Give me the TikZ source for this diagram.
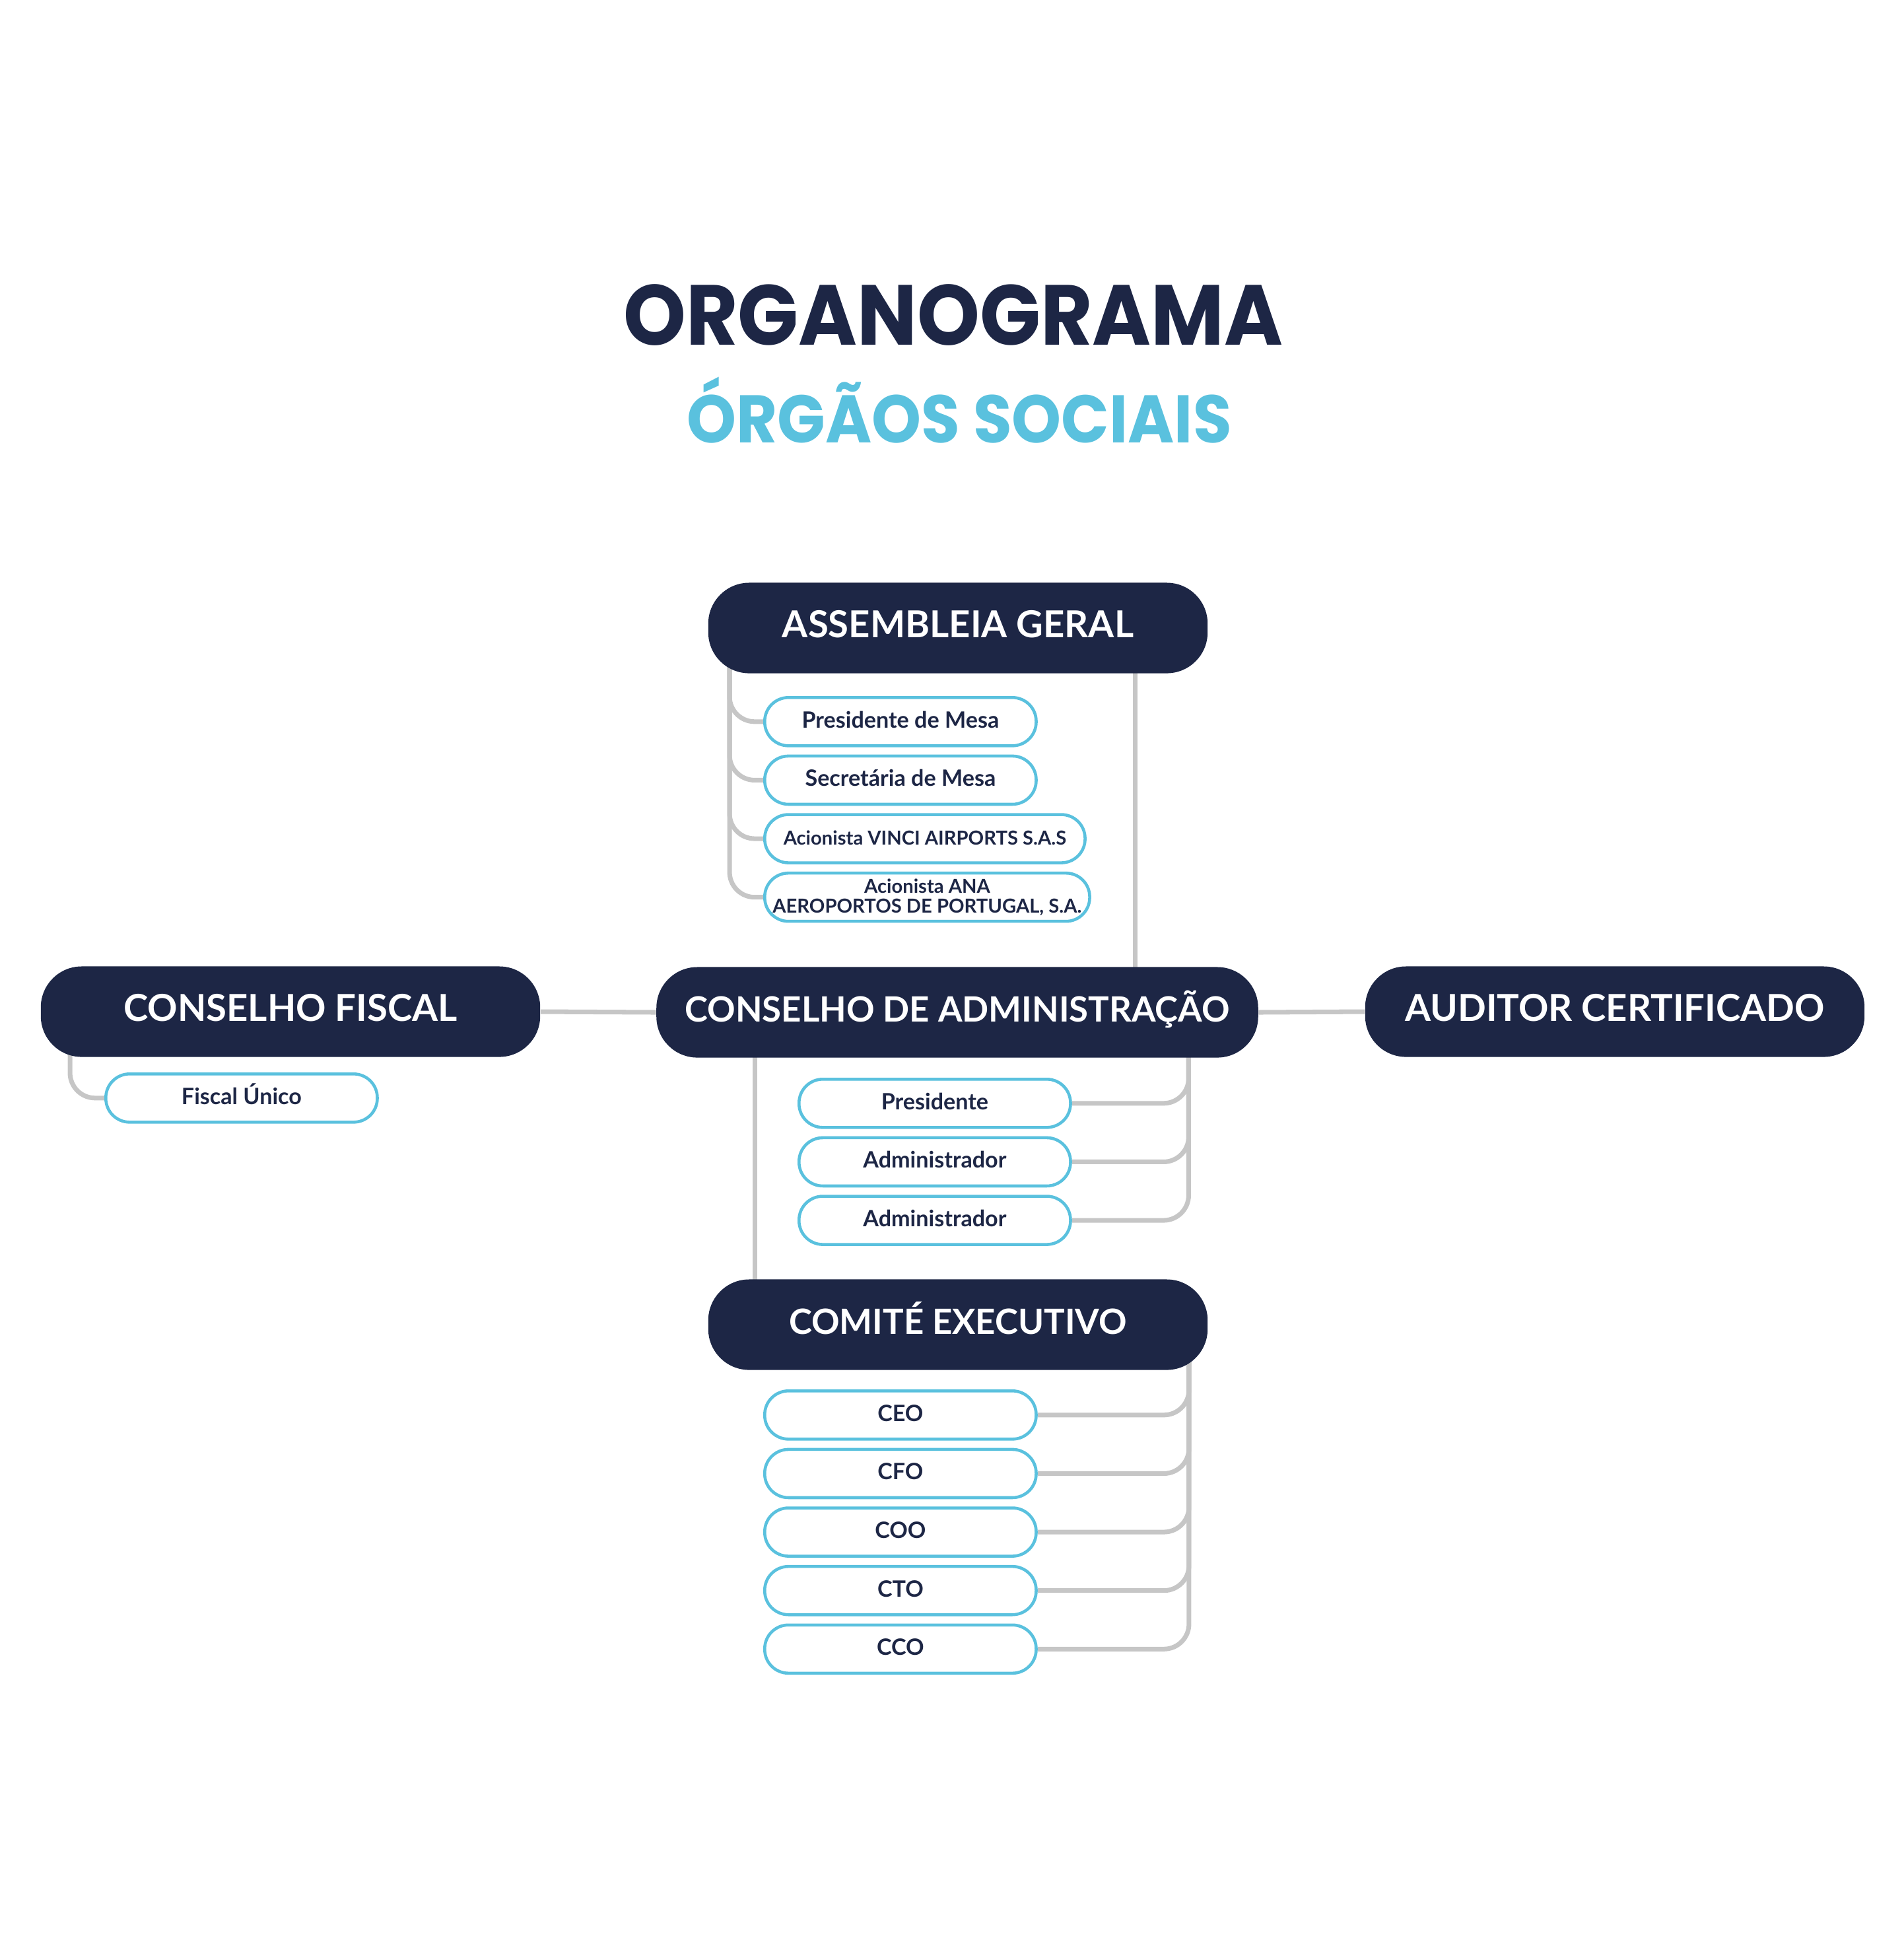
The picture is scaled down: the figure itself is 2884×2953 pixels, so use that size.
\documentclass[tikz,border=0pt]{standalone}
\usepackage{fontspec}
\setmainfont{Lato}
\newfontfamily\titlefont[FakeStretch=0.935]{Poppins}
\usetikzlibrary{positioning,calc,backgrounds}

\definecolor{navy}{HTML}{1D2645}
\definecolor{sky}{HTML}{5AC1DE}
\definecolor{linegrey}{HTML}{C6C6C6}

\begin{document}
\begin{tikzpicture}[x=0.01cm, y=-0.01cm, node distance=0.11cm,
    board/.style={fill=navy, text=white, rounded corners=0.62cm, minimum width=7.56cm,
                  minimum height=1.37cm, inner sep=0pt, text height=11.5pt, text depth=3.2pt,
                  font=\bfseries\fontsize{16}{18}\selectfont},
    member/.style={draw=sky, line width=1.3pt, fill=white, text=navy, rounded corners=0.36cm,
                   minimum width=4.11cm, minimum height=0.73cm, inner sep=0pt,
                   text height=7.4pt, text depth=2pt,
                   font=\bfseries\fontsize{9.7}{11}\selectfont},
    small/.style={font=\bfseries\fontsize{8.3}{8.4}\selectfont, align=center},
    link/.style={draw=linegrey, line width=2pt},
    bus/.style={link, rounded corners=0.38cm}]

    \useasboundingbox (0,0) rectangle (2884,2953);

    % title
    \node[anchor=base, text=navy, font=\titlefont\bfseries\fontsize{36.7}{40}\selectfont] (title) at (1444,522) {ORGANOGRAMA};
    \node[anchor=base, text=sky, font=\titlefont\bfseries\fontsize{29}{32}\selectfont] (subtitle) at (1453,670) {ÓRGÃOS SOCIAIS};

    % boards
    \node[board] (AG) at (1451,951)  {ASSEMBLEIA GERAL};
    \node[board, minimum width=9.11cm, font=\bfseries\fontsize{15}{18}\selectfont] (CA) at (1450,1533) {CONSELHO DE ADMINISTRAÇÃO};
    \node[board] (CF) at (440,1532)  {CONSELHO FISCAL};
    \node[board] (AC) at (2446,1532) {AUDITOR CERTIFICADO};
    \node[board, font=\bfseries\fontsize{15}{18}\selectfont] (CE) at (1451,2006) {COMITÉ EXECUTIVO};

    % assembleia geral
    \node[member, anchor=north west] (pm) at (1156,1054) {Presidente de Mesa};
    \node[member, below=of pm.south west, anchor=north west] (sm) {Secretária de Mesa};
    \node[member, small, minimum width=4.85cm, below=of sm.south west, anchor=north west] (vinci) {Acionista VINCI AIRPORTS S.A.S};
    \node[member, small, minimum width=4.92cm, below=of vinci.south west, anchor=north west, text height=, text depth=] (ana) {Acionista ANA\\AEROPORTOS DE PORTUGAL, S.A.};

    % conselho fiscal
    \node[member, anchor=north west] (FU) at (158,1624) {Fiscal Único};

    % conselho de administracao
    \node[member, anchor=north west] (pr) at (1208,1632) {Presidente};
    \node[member, below=of pr] (ad1) {Administrador};
    \node[member, below=of ad1] (ad2) {Administrador};

    % comite executivo
    \node[member, anchor=north west] (ceo) at (1156,2104) {CEO};
    \node[member, below=of ceo] (cfo) {CFO};
    \node[member, below=of cfo] (coo) {COO};
    \node[member, below=of coo] (cto) {CTO};
    \node[member, below=of cto] (cco) {CCO};

    \begin{scope}[on background layer]
        \foreach \m in {pm,sm,vinci,ana}
            \draw[bus] ($(AG.south west)+(33,-40)$) |- (\m.west);
        \draw[link] ($(AG.south east)+(-110,-30)$) -- ($(AG.south east |- CA.north)+(-110,30)$);
        \draw[link] (CF.east) -- (CA.west);
        \draw[link] (CA.east) -- (AC.west);
        \draw[bus] ($(CF.south west)+(45,-30)$) |- (FU.west);
        \draw[link] ($(CA.south west)+(150,-30)$) -- ($(CA.south west |- CE.north)+(150,30)$);
        \foreach \m in {pr,ad1,ad2}
            \draw[bus] ($(CA.south east)+(-106,-30)$) |- (\m.east);
        \foreach \m in {ceo,cfo,coo,cto,cco}
            \draw[bus] ($(CE.south east)+(-29,-30)$) |- (\m.east);
    \end{scope}
\end{tikzpicture}
\end{document}
